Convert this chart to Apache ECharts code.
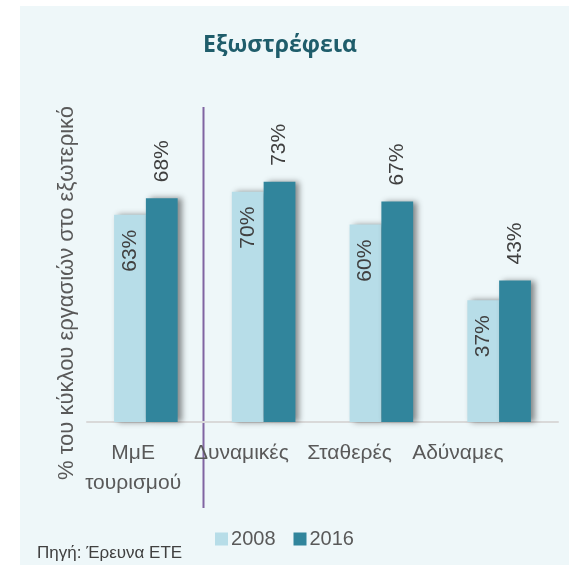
<!DOCTYPE html>
<html>
<head>
<meta charset="utf-8">
<script src="https://cdn.jsdelivr.net/npm/echarts@6/dist/echarts.min.js"></script>
<style>
  html, body { margin: 0; padding: 0; background: #ffffff; }
  #panel { position: absolute; left: 20px; top: 6px; width: 549px; height: 559px; background: #eef7f9; }
  #chart { position: absolute; left: 0; top: 0; width: 569px; height: 565px; }
</style>
</head>
<body>
<div id="panel"></div>
<div id="chart"></div>
<script>
// κατηγορίες και τιμές (%)
const categories = ['ΜμΕ\nτουρισμού', 'Δυναμικές', 'Σταθερές', 'Αδύναμες']
const years = ['2008', '2016']
const values2008 = [63, 70, 60, 37]
const values2016 = [68, 73, 67, 43]

const chart = echarts.init(document.getElementById('chart'), null, { renderer: 'canvas' })
const font = 'Liberation Sans'
const shadow = { shadowColor: 'rgba(0,0,0,0.45)', shadowBlur: 6, shadowOffsetX: 4, shadowOffsetY: 0 }

const option = {
  backgroundColor: 'transparent',
  animation: false,
  textStyle: { fontFamily: font },
  title: {
    text: 'Εξωστρέφεια',
    left: 275,
    top: 29,
    textAlign: 'center',
    textStyle: { fontSize: 23, fontWeight: 'bold', color: '#1f5d6b', fontFamily: 'Open Sans' }
  },
  legend: {
    data: years,
    left: 'center',
    top: 524,
    icon: 'rect',
    itemWidth: 13,
    itemHeight: 13,
    itemGap: 18,
    textStyle: { fontSize: 20, color: '#595959', fontFamily: font, padding: [0, 0, 0, -2] }
  },
  grid: [
    { left: 87, right: 11, top: 93, bottom: 143 },
    { left: 79, right: 57, top: 93, bottom: 143 }
  ],
  xAxis: [
    {
      gridIndex: 0,
      type: 'category',
      data: categories,
      axisLine: { lineStyle: { color: '#d9d9d9', width: 2 } },
      axisTick: { show: false },
      axisLabel: { show: false }
    },
    {
      gridIndex: 1,
      type: 'category',
      data: categories,
      axisLine: { show: false },
      axisTick: { show: false },
      axisLabel: { interval: 0, hideOverlap: false, margin: 16, fontSize: 21, lineHeight: 30, color: '#595959', fontFamily: font }
    }
  ],
  yAxis: [
    { gridIndex: 0, type: 'value', min: 0, max: 100, show: false },
    { gridIndex: 1, type: 'value', min: 0, max: 100, show: false }
  ],
  series: [
    {
      name: '2008',
      type: 'bar',
      data: values2008,
      barGap: '0%',
      barCategoryGap: '46%',
      itemStyle: Object.assign({ color: '#b7dde8' }, shadow),
      label: {
        show: true,
        position: 'insideTop',
        distance: 15,
        rotate: 90,
        align: 'right',
        verticalAlign: 'middle',
        formatter: '{c}%',
        fontSize: 21,
        color: '#404040',
        fontFamily: font
      }
    },
    {
      name: '2016',
      type: 'bar',
      data: values2016,
      itemStyle: Object.assign({ color: '#31859c' }, shadow),
      label: {
        show: true,
        position: 'top',
        distance: 16,
        rotate: 90,
        align: 'left',
        verticalAlign: 'middle',
        formatter: '{c}%',
        fontSize: 21,
        color: '#404040',
        fontFamily: font
      }
    }
  ],
  graphic: [
    // διαχωριστική γραμμή
    { type: 'line', shape: { x1: 203.5, y1: 107, x2: 203.5, y2: 508 }, style: { stroke: '#8064a2', lineWidth: 2 }, silent: true },
    // τίτλος άξονα y
    {
      type: 'text', x: 67, y: 293, rotation: Math.PI / 2,
      style: { text: '% του κύκλου εργασιών στο εξωτερικό', fontSize: 22, fill: '#595959', fontFamily: font, align: 'center', verticalAlign: 'middle' }
    },
    // πηγή
    {
      type: 'text', x: 37, y: 553,
      style: { text: 'Πηγή: Έρευνα ΕΤΕ', fontSize: 17, fill: '#404040', fontFamily: font, align: 'left', verticalAlign: 'middle' }
    }
  ]
}

chart.setOption(option)
</script>
</body>
</html>
